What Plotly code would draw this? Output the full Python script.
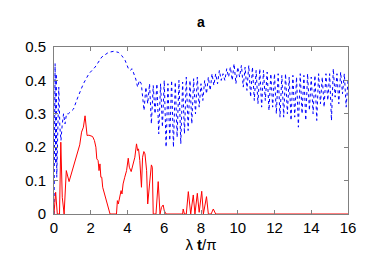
import plotly.graph_objects as go

# Blue (dotted) series
blue_x = [0, 0.02, 0.04, 0.06, 0.09, 0.12, 0.15, 0.2, 0.26, 0.32, 0.38, 0.45, 0.52, 0.6, 0.68,
          0.78, 0.9, 1.06, 1.3, 1.6, 1.9, 2.24, 2.6, 2.97, 3.24, 3.5, 3.69, 3.87, 4.05, 4.15,
          4.25, 4.35, 4.45, 4.55, 4.65, 4.75, 4.9,
          5.0, 5.1, 5.2, 5.3, 5.4, 5.5, 5.6, 5.7, 5.8, 5.9,
          6.0, 6.1, 6.2, 6.3, 6.4, 6.5, 6.6, 6.7, 6.8, 6.9,
          7.0, 7.1, 7.2, 7.3, 7.4, 7.5, 7.6, 7.7, 7.8, 7.9,
          8.0, 8.1, 8.2, 8.3, 8.4, 8.5, 8.6, 8.7, 8.8, 8.9,
          9.0, 9.1, 9.2, 9.3, 9.4, 9.5, 9.6, 9.7, 9.8, 9.9,
          10.0, 10.1, 10.2, 10.3, 10.4, 10.5, 10.6, 10.7, 10.8, 10.9,
          11.0, 11.1, 11.2, 11.3, 11.4, 11.5, 11.6, 11.7, 11.8, 11.9,
          12.0, 12.1, 12.2, 12.3, 12.4, 12.5, 12.6, 12.7, 12.8, 12.9,
          13.0, 13.1, 13.2, 13.3, 13.4, 13.5, 13.6, 13.7, 13.8, 13.9,
          14.0, 14.1, 14.2, 14.3, 14.4, 14.5, 14.6, 14.7, 14.8, 14.9,
          15.0, 15.1, 15.2, 15.3, 15.4, 15.5, 15.6, 15.7, 15.8, 15.9, 16.0]
blue_y = [0.0, 0.3, 0.05, 0.45, 0.15, 0.42, 0.11, 0.3, 0.38, 0.26, 0.22, 0.27, 0.30, 0.27, 0.30,
          0.30, 0.305, 0.314, 0.35, 0.39, 0.42, 0.44, 0.47, 0.484, 0.487, 0.484, 0.474, 0.46, 0.435, 0.43,
          0.435, 0.42, 0.404, 0.38, 0.40, 0.39, 0.31,
          0.38, 0.33, 0.39, 0.27, 0.385, 0.30, 0.39, 0.24, 0.39, 0.26,
          0.40, 0.20, 0.39, 0.22, 0.40, 0.20, 0.395, 0.23, 0.40, 0.21,
          0.395, 0.24, 0.41, 0.25, 0.40, 0.27, 0.405, 0.30, 0.41, 0.32,
          0.39, 0.34, 0.40, 0.36, 0.41, 0.37, 0.42, 0.385, 0.42, 0.39,
          0.43, 0.40, 0.42, 0.40, 0.435, 0.41, 0.44, 0.40, 0.45, 0.39,
          0.44, 0.41, 0.445, 0.38, 0.44, 0.37, 0.445, 0.35, 0.44, 0.34,
          0.43, 0.33, 0.435, 0.32, 0.43, 0.34, 0.425, 0.31, 0.42, 0.32,
          0.42, 0.30, 0.42, 0.29, 0.415, 0.29, 0.42, 0.30, 0.41, 0.28,
          0.415, 0.29, 0.41, 0.26, 0.42, 0.30, 0.415, 0.28, 0.42, 0.31,
          0.41, 0.30, 0.415, 0.28, 0.42, 0.33, 0.41, 0.32, 0.42, 0.34,
          0.42, 0.28, 0.435, 0.35, 0.42, 0.33, 0.425, 0.36, 0.42, 0.32, 0.40]

# Red (solid) series
red_x = [0, 0.09, 0.18, 0.25, 0.3, 0.37, 0.45, 0.55, 0.67, 0.82, 1.04, 1.2, 1.4, 1.5, 1.6,
         1.69, 1.75, 1.8, 1.9, 2.0, 2.1, 2.2, 2.28, 2.33, 2.4, 2.45, 2.5, 2.55, 2.6, 2.65,
         2.7, 2.8, 2.9, 2.99, 3.05, 3.4, 3.45, 3.5, 3.58, 3.65, 3.7, 3.76, 3.85, 3.95, 4.04,
         4.1, 4.2, 4.3, 4.4, 4.49, 4.55, 4.6, 4.67, 4.76, 4.82, 4.89, 4.95, 5.04, 5.1, 5.2,
         5.3, 5.35, 5.4, 5.55, 5.67, 5.77, 5.85, 5.94, 6.0, 6.1, 7.0, 7.03, 7.1, 7.2, 7.31,
         7.44, 7.58, 7.67, 7.8, 7.9, 8.04, 8.13, 8.3, 8.4, 8.55, 8.67, 8.8, 16]
red_y = [0, 0.065, 0, 0, 0.0, 0.215, 0.05, 0, 0.13, 0.097, 0.14, 0.17, 0.207, 0.245, 0.26,
         0.294, 0.25, 0.235, 0.236, 0.235, 0.232, 0.22, 0.2, 0.165, 0.16, 0.13, 0.15, 0.11, 0.11, 0.08,
         0.07, 0.055, 0.03, 0.01, 0, 0, 0.04, 0.03, 0.057, 0.07, 0.06, 0.09, 0.11, 0.13, 0.167,
         0.14, 0.127, 0.15, 0.17, 0.21, 0.19, 0.195, 0.16, 0.08, 0.17, 0.187, 0.18, 0.13, 0.03, 0.09,
         0.147, 0.14, 0, 0, 0.097, 0, 0.02, 0.027, 0.01, 0, 0, 0.015, 0, 0, 0.067,
         0, 0.057, 0, 0.062, 0.005, 0.068, 0, 0.052, 0, 0, 0.015, 0, 0]

x_ticks = [0, 2, 4, 6, 8, 10, 12, 14, 16]
y_ticks = [0, 0.1, 0.2, 0.3, 0.4, 0.5]
y_tick_labels = ["0", "0.1", "0.2", "0.3", "0.4", "0.5"]

fig = go.Figure()
fig.add_trace(go.Scatter(x=blue_x, y=blue_y, mode="lines",
                         line=dict(color="#0000ff", width=1, dash="dot"), showlegend=False))
fig.add_trace(go.Scatter(x=red_x, y=red_y, mode="lines",
                         line=dict(color="#ff0000", width=1), showlegend=False))

font_family = "Liberation Sans, Arial, sans-serif"
fig.update_layout(
    width=374, height=262,
    margin=dict(l=54, r=26, t=47, b=48, autoexpand=False),
    paper_bgcolor="white", plot_bgcolor="white",
    font=dict(family=font_family, size=15, color="black"),
    title=dict(text="<b>a</b>", x=201 / 374, xanchor="center", xref="container",
               y=1 - 22 / 262, yanchor="middle", font=dict(size=14)),
)
fig.update_xaxes(range=[0, 16], tickvals=x_ticks, ticks="inside", ticklen=4,
                 showline=True, linecolor="#808080", linewidth=1, mirror="ticks",
                 tickcolor="#808080", showgrid=False, zeroline=False, automargin=False,
                 title=dict(text="λ <b>t</b>/π", font=dict(size=15), standoff=4))
fig.update_yaxes(range=[0, 0.5], tickvals=y_ticks, ticktext=y_tick_labels, ticks="inside",
                 ticklen=4, showline=True, linecolor="#808080", linewidth=1, mirror="ticks",
                 tickcolor="#808080", showgrid=False, zeroline=False, automargin=False,
                 ticklabelstandoff=4)

fig.write_html("out.html", config={"displayModeBar": False},
               post_script="document.body.style.margin='0';")
